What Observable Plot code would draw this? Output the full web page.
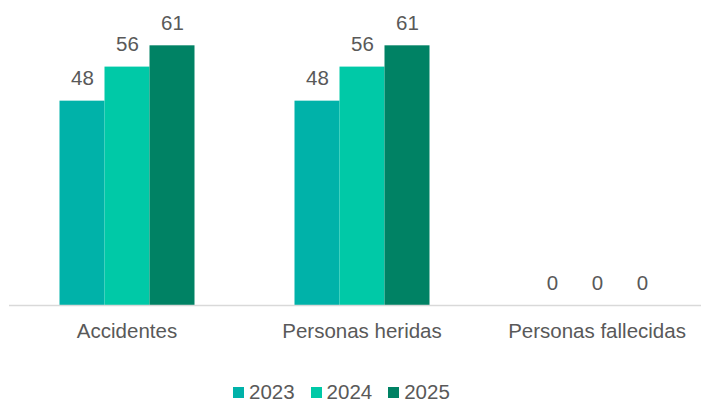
<!DOCTYPE html>
<html>
<head>
<meta charset="utf-8">
<script src="https://cdn.jsdelivr.net/npm/d3@7"></script>
<script src="https://cdn.jsdelivr.net/npm/@observablehq/plot@0.6"></script>
<style>
  html, body { margin: 0; padding: 0; background: #fff; }
  body { width: 701px; height: 402px; overflow: hidden; position: relative; font-family: "Liberation Sans", Arial, sans-serif; }
  #legend { position: absolute; left: 233px; top: 383px; display: flex; gap: 16px; font-size: 20.5px; color: #595959; line-height: 18px; }
  #legend .item { display: flex; align-items: center; gap: 5px; }
  #legend .sw { width: 11px; height: 11px; display: inline-block; }
</style>
</head>
<body>
<div id="chart"></div>
<div id="legend"></div>
<script>
const categories = ["Accidentes", "Personas heridas", "Personas fallecidas"];
const years = ["2023", "2024", "2025"];
const values2023 = [48, 48, 0];
const values2024 = [56, 56, 0];
const values2025 = [61, 61, 0];
const colors = ["#00B2A9", "#00C9A7", "#008264"];

const seriesValues = [values2023, values2024, values2025];
const data = [];
categories.forEach((c, i) => {
  years.forEach((y, j) => data.push({category: c, year: y, value: seriesValues[j][i]}));
});

const chart = Plot.plot({
  width: 701,
  height: 360,
  marginTop: 7,
  marginBottom: 55,
  marginLeft: 9.5,
  marginRight: 0,
  style: {fontFamily: '"Liberation Sans", Arial, sans-serif', background: "#fff"},
  fx: {domain: categories, range: [8.5, 713.5], padding: 0, label: null},
  x: {domain: years, paddingInner: 0, paddingOuter: 1.092, axis: null},
  y: {domain: [0, 70], axis: null},
  color: {domain: years, range: colors},
  marks: [
    Plot.barY(data, {fx: "category", x: "year", y: "value", fill: "year"}),
    Plot.ruleY([0], {stroke: "#d9d9d9", strokeWidth: 1.5}),
    Plot.text(data, {fx: "category", x: "year", y: "value", text: d => String(d.value),
      lineAnchor: "bottom", dy: -16, fill: "#595959", fontSize: 20.5}),
    Plot.axisFx({anchor: "bottom", tickSize: 0, tickPadding: 18, fontSize: 20.5, color: "#595959", label: null})
  ]
});
document.getElementById("chart").appendChild(chart);

const legend = document.getElementById("legend");
years.forEach((y, i) => {
  const item = document.createElement("span");
  item.className = "item";
  const sw = document.createElement("span");
  sw.className = "sw";
  sw.style.background = colors[i];
  const t = document.createElement("span");
  t.textContent = y;
  item.appendChild(sw);
  item.appendChild(t);
  legend.appendChild(item);
});
</script>
</body>
</html>
